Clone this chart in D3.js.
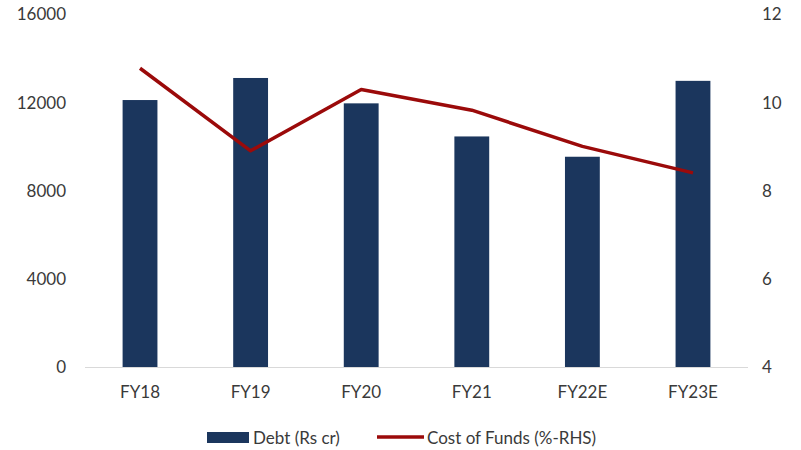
<!DOCTYPE html>
<html>
<head>
<meta charset="utf-8">
<script src="https://cdn.jsdelivr.net/npm/d3@7"></script>
<style>
  body { margin: 0; background: #fff; }
  text { font-family: Lato, "Open Sans", sans-serif; fill: #3a3a3a; }
</style>
</head>
<body>
<div id="chart"></div>
<script>
// chart data
var years = ['FY18', 'FY19', 'FY20', 'FY21', 'FY22E', 'FY23E'];
var debt = [12100, 13100, 11950, 10450, 9530, 12970]; // Rs cr, LHS
var costOfFunds = [10.77, 8.9, 10.29, 9.82, 9.0, 8.4]; // %, RHS
var leftTicks = [0, 4000, 8000, 12000, 16000];
var rightTicks = [4, 6, 8, 10, 12];

var W = 801, H = 450;
var plot = {left: 85, right: 748, top: 14, bottom: 367};
var fs = '17px';

var svg = d3.select('#chart').append('svg')
  .attr('width', W)
  .attr('height', H);

var x = d3.scaleBand()
  .domain(years)
  .range([plot.left, plot.right])
  .paddingInner(0.685)
  .paddingOuter(0.34);

var yL = d3.scaleLinear().domain([0, 16000]).range([plot.bottom, plot.top]);
var yR = d3.scaleLinear().domain([4, 12]).range([plot.bottom, plot.top]);

// left axis labels
var axL = svg.append('g')
  .attr('transform', 'translate(' + (plot.left - 19) + ',0)')
  .call(d3.axisLeft(yL).tickValues(leftTicks).tickFormat(d3.format('d')).tickSize(0).tickPadding(0));
axL.select('.domain').remove();
axL.selectAll('text').style('font-size', fs).attr('dy', '0.35em');

// right axis labels
var axR = svg.append('g')
  .attr('transform', 'translate(' + (plot.right + 14) + ',0)')
  .call(d3.axisRight(yR).tickValues(rightTicks).tickSize(0).tickPadding(0));
axR.select('.domain').remove();
axR.selectAll('text').style('font-size', fs).attr('dy', '0.35em');

// bars
svg.append('g').selectAll('rect')
  .data(debt)
  .enter()
  .append('rect')
  .attr('x', function(d, i){ return x(years[i]); })
  .attr('y', function(d){ return yL(d); })
  .attr('width', x.bandwidth())
  .attr('height', function(d){ return yL(0) - yL(d); })
  .style('fill', '#1b365d');

// baseline
svg.append('line')
  .attr('x1', plot.left).attr('x2', plot.right)
  .attr('y1', plot.bottom + 0.5).attr('y2', plot.bottom + 0.5)
  .style('stroke', '#d9d9d9')
  .style('stroke-width', 1.2);

// category labels
var axX = svg.append('g')
  .attr('transform', 'translate(0,' + plot.bottom + ')')
  .call(d3.axisBottom(x).tickSize(0).tickPadding(19));
axX.select('.domain').remove();
axX.selectAll('text').style('font-size', fs);

// cost of funds line
var line = d3.line()
  .x(function(d, i){ return x(years[i]) + x.bandwidth() / 2; })
  .y(function(d){ return yR(d); });

svg.append('path')
  .datum(costOfFunds)
  .attr('d', line)
  .style('fill', 'none')
  .style('stroke', '#9b0a0a')
  .style('stroke-width', 3.5)
  .style('stroke-linejoin', 'round');

// legend
var lg = svg.append('g');
lg.append('rect')
  .attr('x', 207).attr('y', 432)
  .attr('width', 42).attr('height', 11)
  .style('fill', '#1b365d');
lg.append('text')
  .attr('x', 253).attr('y', 438)
  .attr('dy', '0.35em')
  .style('font-size', fs)
  .text('Debt (Rs cr)');
lg.append('line')
  .attr('x1', 377).attr('x2', 424)
  .attr('y1', 437).attr('y2', 437)
  .style('stroke', '#9b0a0a')
  .style('stroke-width', 3.5);
lg.append('text')
  .attr('x', 427).attr('y', 438)
  .attr('dy', '0.35em')
  .style('font-size', fs)
  .text('Cost of Funds (%-RHS)');
</script>
</body>
</html>
